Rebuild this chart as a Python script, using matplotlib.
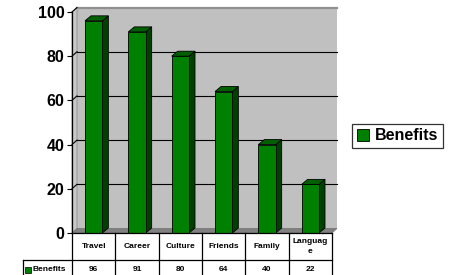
import numpy as np
import matplotlib
matplotlib.use('Agg')
import matplotlib.pyplot as plt
from matplotlib.patches import Polygon

plt.rcParams['font.family'] = ['Liberation Sans', 'DejaVu Sans']
plt.rcParams['font.weight'] = 'bold'

# data
categories = ['Travel', 'Career', 'Culture', 'Friends', 'Family', 'Language']
benefits = [96, 91, 80, 64, 40, 22]
series_name = 'Benefits'
yticks = [0, 20, 40, 60, 80, 100]

green = '#008000'
green_side = '#004000'
green_top = '#006000'

W, H = 457, 275
fig = plt.figure(figsize=(W / 100, H / 100), dpi=100)
# front plot area in pixels: x 72..332, y 12..233
ax = fig.add_axes([72 / W, 42 / H, 260 / W, 221 / H])
ax.set_xlim(-0.5, len(categories) - 0.5)
ax.set_ylim(0, 100)
for s in ax.spines.values():
    s.set_visible(False)
ax.patch.set_visible(False)

# pixel -> data conversions for the 3d depth
pxx = 260 / len(categories)
pxy = 221 / 100
dxw, dyw = 5 / pxx, 4.5 / pxy     # wall depth
dxb, dyb = 6 / pxx, 5 / pxy       # bar depth
x0, x1 = -0.5, len(categories) - 0.5

# walls and floor
ax.add_patch(Polygon([(x0 + dxw, dyw), (x1 + dxw, dyw), (x1 + dxw, 100 + dyw), (x0 + dxw, 100 + dyw)],
                     closed=True, facecolor='#c0c0c0', edgecolor='none', clip_on=False, zorder=0))
ax.plot([x0 + dxw, x1 + dxw], [100 + dyw, 100 + dyw], color='#909090', lw=1.6, clip_on=False, zorder=0.6)
ax.add_patch(Polygon([(x0, 0), (x0 + dxw, dyw), (x0 + dxw, 100 + dyw), (x0, 100)],
                     closed=True, facecolor='#c8c8c8', edgecolor='#909090', lw=0.6, clip_on=False, zorder=0))
ax.add_patch(Polygon([(x0, 0), (x1, 0), (x1 + dxw, dyw), (x0 + dxw, dyw)],
                     closed=True, facecolor='#808080', edgecolor='#707070', lw=0.5, clip_on=False, zorder=0.5))

# gridlines on back wall + diagonals on the side wall
for v in yticks[1:-1]:
    ax.plot([x0 + dxw, x1 + dxw], [v + dyw, v + dyw], color='black', lw=0.8, zorder=0.6, clip_on=False)
for v in yticks[1:]:
    ax.plot([x0, x0 + dxw], [v, v + dyw], color='black', lw=0.8, zorder=0.6, clip_on=False)

# bars
x = np.arange(len(categories))
w = 0.4
bars = ax.bar(x, benefits, width=w, color=green, edgecolor='black', lw=0.6, zorder=3, label=series_name)
for xi, v in zip(x, benefits):
    r = xi + w / 2
    l = xi - w / 2
    ax.add_patch(Polygon([(r, 0), (r + dxb, dyb), (r + dxb, v + dyb), (r, v)], closed=True,
                         facecolor=green_side, edgecolor='black', lw=0.6, zorder=2.9, clip_on=False))
    ax.add_patch(Polygon([(l, v), (r, v), (r + dxb, v + dyb), (l + dxb, v + dyb)], closed=True,
                         facecolor=green_top, edgecolor='black', lw=0.6, zorder=2.9, clip_on=False))

# y axis
ax.plot([x0, x0], [0, 100], color='black', lw=0.9, clip_on=False, zorder=4)
ax.set_yticks(yticks)
ax.set_yticklabels([str(t) for t in yticks], fontsize=11.5, fontweight='bold')
ax.tick_params(axis='y', length=3.5, width=0.8, pad=2)
ax.set_xticks([])

# data table below the plot
tr = ax.get_xaxis_transform()
row1 = -27 / 221
row2 = -0.21
lab_left = x0 - 49 / pxx
ax.plot([x0, x1], [0, 0], color='black', lw=0.9, transform=tr, clip_on=False, zorder=4)
ax.plot([lab_left, x1], [row1, row1], color='black', lw=0.9, transform=tr, clip_on=False)
for b in np.arange(len(categories) + 1) - 0.5:
    ax.plot([b, b], [0, row2], color='black', lw=0.9, transform=tr, clip_on=False)
ax.plot([lab_left, lab_left], [row1, row2], color='black', lw=0.9, transform=tr, clip_on=False)

for xi, cat, v in zip(x, categories, benefits):
    label = cat if len(cat) <= 7 else cat[:7] + '\n' + cat[7:]
    ax.text(xi, row1 / 2, label, transform=tr, ha='center', va='center',
            fontsize=6, fontweight='bold', linespacing=1.6)
    ax.text(xi, row1 - 0.045, str(v), transform=tr, ha='center', va='center',
            fontsize=6, fontweight='bold')

ax.plot([lab_left + 5 / pxx], [row1 - 0.045], marker='s', ms=4, mfc=green, mec='black', mew=0.5,
        transform=tr, clip_on=False)
ax.text(lab_left + 9 / pxx, row1 - 0.045, series_name, transform=tr, ha='left', va='center',
        fontsize=6, fontweight='bold')

# legend
leg = fig.legend(handles=[bars], labels=[series_name], loc='center left',
                 bbox_to_anchor=(352 / W, (H - 136) / H), prop={'size': 11.5, 'weight': 'bold'},
                 frameon=True, fancybox=False, shadow=False, handlelength=0.75, handleheight=0.75,
                 handletextpad=0.4, borderpad=0.3, borderaxespad=0)
leg.get_frame().set_edgecolor('black')
leg.get_frame().set_linewidth(0.9)

fig.savefig('out.png', dpi=100)
